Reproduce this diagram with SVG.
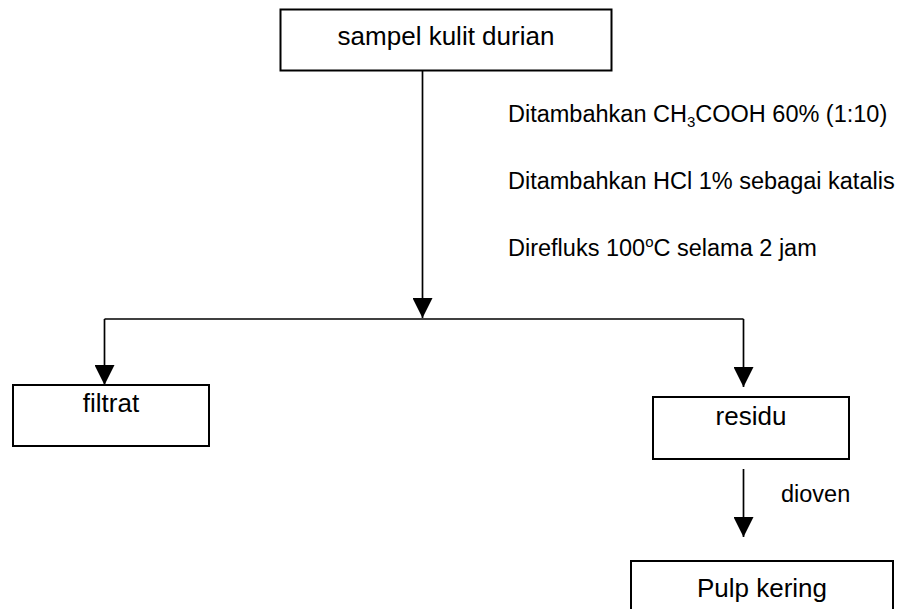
<svg xmlns="http://www.w3.org/2000/svg" width="906" height="609" viewBox="0 0 906 609">
<style>
  .box { fill: #ffffff; stroke: #000000; stroke-width: 2; }
  .lbl { font-family: "Liberation Sans", Arial, sans-serif; font-size: 26px; fill: #000000; text-anchor: middle; }
  .note { font-family: "Liberation Sans", Arial, sans-serif; font-size: 23.5px; fill: #000000; }
  .sub { font-size: 15px; }
  .conn { fill: none; stroke: #000000; stroke-width: 1.7; }
  .arrow { fill: none; stroke: #000000; stroke-width: 1.7; marker-end: url(#head); }
</style>
<defs>
  <marker id="head" markerUnits="userSpaceOnUse" markerWidth="21" markerHeight="20" refX="20" refY="10" orient="auto">
    <path d="M0,0 L20,10 L0,20 z" fill="#000000"/>
  </marker>
</defs>
<rect width="906" height="609" fill="#ffffff"/>
<g id="connectors">
  <path class="arrow" d="M422.5,71 V318"/>
  <path class="conn" d="M104.5,319 H743.5"/>
  <path class="arrow" d="M104.5,319 V385"/>
  <path class="arrow" d="M743.5,319 V387"/>
  <path class="arrow" d="M743.5,469 V537"/>
</g>
<g id="notes">
  <text class="note" x="508" y="122">Ditambahkan CH<tspan class="sub" dy="5">3</tspan><tspan dy="-5">COOH 60% (1:10)</tspan></text>
  <text class="note" x="508" y="189">Ditambahkan HCl 1% sebagai katalis</text>
  <text class="note" x="508" y="256">Direfluks 100<tspan class="sub" dy="-9">o</tspan><tspan dy="9">C selama 2 jam</tspan></text>
  <text class="note" x="781" y="502">dioven</text>
</g>
<g id="node-sampel">
  <rect class="box" x="280.5" y="9.5" width="331" height="61"/>
  <text class="lbl" x="446" y="45">sampel kulit durian</text>
</g>
<g id="node-filtrat">
  <rect class="box" x="13" y="385" width="196" height="61"/>
  <text class="lbl" x="111" y="412">filtrat</text>
</g>
<g id="node-residu">
  <rect class="box" x="653" y="397" width="196" height="62"/>
  <text class="lbl" x="751" y="425">residu</text>
</g>
<g id="node-pulp">
  <rect class="box" x="631" y="561" width="262" height="60"/>
  <text class="lbl" x="762" y="597">Pulp kering</text>
</g>
</svg>
